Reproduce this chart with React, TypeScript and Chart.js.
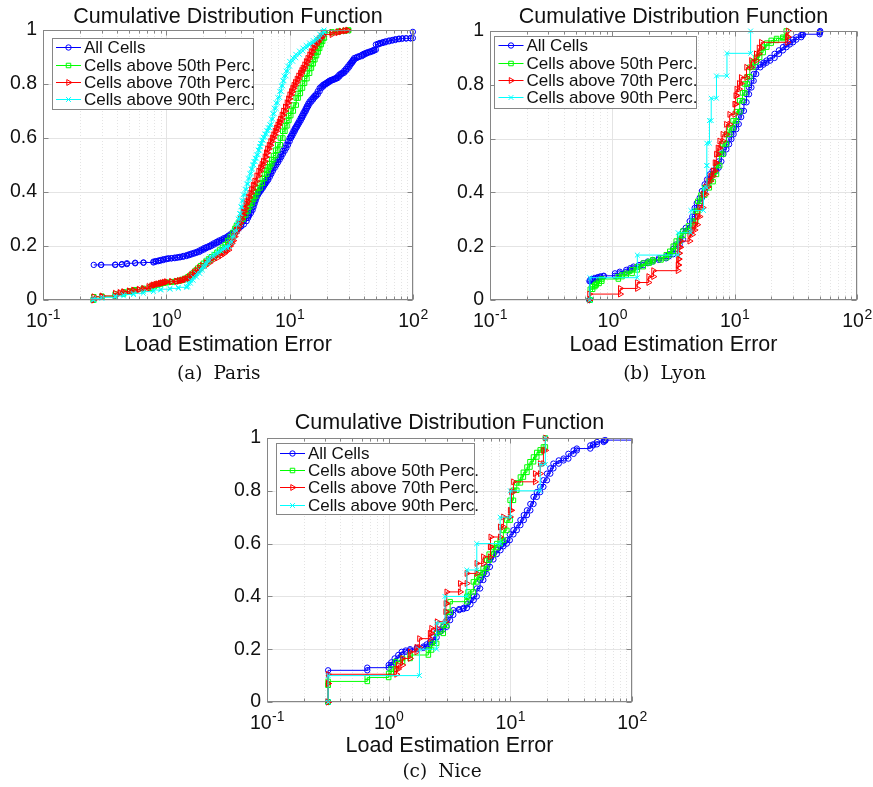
import React, { useEffect, useRef } from 'react';
import { Chart, registerables } from 'chart.js';

Chart.register(...registerables);

// ---------------- data ----------------
const SERIES_LABELS = ['All Cells', 'Cells above 50th Perc.', 'Cells above 70th Perc.', 'Cells above 90th Perc.'];
const X_DECADES = [-1, 0, 1, 2];
const Y_TICKS = [0, 0.2, 0.4, 0.6, 0.8, 1];

// Paris: [error, cdf] pairs
const parisAll: number[][] = [
  [0.258, 0.13], [0.296, 0.13], [0.385, 0.131], [0.436, 0.133], [0.479, 0.136], [0.559, 0.138], [0.653, 0.139], [0.786, 0.142],
  [0.82, 0.144], [0.862, 0.146], [0.9, 0.148], [0.946, 0.151], [1.0, 0.153], [1.04, 0.154], [1.1, 0.155], [1.17, 0.157],
  [1.23, 0.158], [1.29, 0.16], [1.37, 0.163], [1.46, 0.166], [1.53, 0.169], [1.6, 0.172], [1.68, 0.175], [1.76, 0.178],
  [1.85, 0.183], [1.93, 0.187], [2.02, 0.192], [2.11, 0.196], [2.22, 0.2], [2.32, 0.205], [2.43, 0.21], [2.55, 0.215],
  [2.67, 0.22], [2.8, 0.224], [2.93, 0.229], [3.07, 0.233], [3.18, 0.238], [3.3, 0.243], [3.44, 0.249], [3.58, 0.255],
  [3.7, 0.261], [3.8, 0.267], [3.92, 0.273], [4.05, 0.28], [4.25, 0.292], [4.47, 0.304], [4.6, 0.313], [4.7, 0.322],
  [4.85, 0.333], [5.0, 0.345], [5.1, 0.357], [5.2, 0.368], [5.3, 0.379], [5.4, 0.39], [5.55, 0.397], [5.65, 0.403],
  [5.8, 0.409], [5.9, 0.415], [6.05, 0.423], [6.2, 0.43], [6.35, 0.437], [6.5, 0.445], [6.7, 0.456], [6.9, 0.467],
  [7.1, 0.478], [7.3, 0.489], [7.55, 0.5], [7.8, 0.51], [8.05, 0.52], [8.3, 0.53], [8.55, 0.541], [8.8, 0.552],
  [9.1, 0.563], [9.4, 0.575], [9.7, 0.588], [10.0, 0.6], [10.25, 0.608], [10.5, 0.617], [10.75, 0.626], [11.0, 0.635],
  [11.25, 0.642], [11.5, 0.65], [11.75, 0.657], [12.0, 0.665], [12.3, 0.674], [12.6, 0.683], [12.9, 0.692], [13.2, 0.7],
  [13.5, 0.709], [13.8, 0.718], [14.15, 0.727], [14.5, 0.735], [15.0, 0.743], [15.5, 0.75], [15.9, 0.756], [16.4, 0.762],
  [16.9, 0.773], [17.5, 0.785], [18.1, 0.791], [18.7, 0.797], [19.2, 0.8], [19.8, 0.804], [20.4, 0.808], [21.0, 0.812],
  [21.7, 0.815], [22.4, 0.817], [23.1, 0.82], [23.8, 0.822], [24.5, 0.828], [25.3, 0.835], [26.1, 0.839], [26.9, 0.842],
  [27.7, 0.849], [28.6, 0.856], [29.5, 0.864], [30.5, 0.872], [31.2, 0.878], [32.0, 0.884], [32.7, 0.89], [33.4, 0.896],
  [35, 0.9], [36.5, 0.903], [38.5, 0.908], [40, 0.912], [41.5, 0.915], [43, 0.918], [45, 0.921], [47, 0.924],
  [48.5, 0.927], [50, 0.946], [52, 0.949], [54, 0.952], [57, 0.955], [60, 0.958], [64, 0.961], [68, 0.963],
  [72, 0.966], [77, 0.968], [82, 0.969], [88, 0.969], [95.5, 0.97], [99.7, 0.993],
];
const paris50: number[][] = [
  [0.255, 0], [0.258, 0.012], [0.3, 0.014], [0.385, 0.022], [0.45, 0.03], [0.5, 0.034], [0.56, 0.038], [0.65, 0.043],
  [0.75, 0.05], [0.8, 0.055], [0.85, 0.059], [0.9, 0.062], [0.95, 0.064], [1.0, 0.066], [1.1, 0.068], [1.2, 0.07],
  [1.28, 0.073], [1.35, 0.076], [1.42, 0.08], [1.5, 0.086], [1.58, 0.093], [1.65, 0.1], [1.72, 0.109], [1.8, 0.118],
  [1.9, 0.127], [2.0, 0.136], [2.1, 0.144], [2.2, 0.152], [2.32, 0.16], [2.45, 0.168], [2.57, 0.176], [2.7, 0.185],
  [2.85, 0.195], [3.0, 0.205], [3.15, 0.22], [3.3, 0.235], [3.45, 0.25], [3.6, 0.265], [3.7, 0.275], [3.85, 0.288],
  [4.0, 0.3], [4.2, 0.315], [4.4, 0.33], [4.6, 0.345], [4.76, 0.358], [4.95, 0.373], [5.1, 0.385], [5.3, 0.4],
  [5.5, 0.415], [5.75, 0.432], [6.0, 0.45], [6.25, 0.466], [6.5, 0.48], [6.7, 0.493], [6.9, 0.505], [7.15, 0.52],
  [7.4, 0.535], [7.7, 0.555], [8.0, 0.575], [8.4, 0.6], [8.8, 0.625], [9.15, 0.645], [9.5, 0.665], [9.85, 0.683],
  [10.2, 0.7], [10.7, 0.722], [11.3, 0.748], [11.7, 0.765], [12.2, 0.785], [12.7, 0.803], [13.2, 0.82], [13.8, 0.84],
  [14.5, 0.859], [15.0, 0.875], [15.5, 0.89], [16.0, 0.905], [16.5, 0.918], [17.0, 0.932], [17.5, 0.946], [18.0, 0.958],
  [18.5, 0.97], [19.1, 0.99], [22, 0.993], [25, 0.996], [28, 0.998], [30, 1.0],
];
const paris70: number[][] = [
  [0.255, 0], [0.258, 0.012], [0.3, 0.015], [0.385, 0.025], [0.42, 0.028], [0.45, 0.031], [0.5, 0.034], [0.542, 0.037],
  [0.6, 0.04], [0.653, 0.043], [0.72, 0.05], [0.76, 0.053], [0.785, 0.056], [0.82, 0.058], [0.85, 0.06], [0.89, 0.062],
  [0.92, 0.064], [0.96, 0.066], [1.0, 0.068], [1.1, 0.068], [1.21, 0.07], [1.27, 0.072], [1.33, 0.074], [1.4, 0.077],
  [1.46, 0.08], [1.53, 0.087], [1.6, 0.095], [1.68, 0.103], [1.76, 0.111], [1.85, 0.12], [1.95, 0.128], [2.1, 0.138],
  [2.25, 0.148], [2.4, 0.156], [2.6, 0.165], [2.8, 0.172], [2.95, 0.18], [3.07, 0.185], [3.2, 0.2], [3.3, 0.21],
  [3.4, 0.22], [3.5, 0.235], [3.6, 0.248], [3.69, 0.26], [3.8, 0.272], [3.9, 0.285], [4.0, 0.3], [4.1, 0.315],
  [4.2, 0.328], [4.3, 0.34], [4.4, 0.355], [4.47, 0.365], [4.6, 0.38], [4.75, 0.395], [4.9, 0.41], [5.05, 0.425],
  [5.2, 0.44], [5.4, 0.46], [5.6, 0.477], [5.8, 0.49], [5.95, 0.502], [6.1, 0.514], [6.3, 0.53], [6.45, 0.545],
  [6.6, 0.56], [6.8, 0.573], [7.0, 0.587], [7.2, 0.6], [7.4, 0.612], [7.6, 0.625], [7.8, 0.637], [8.0, 0.648],
  [8.2, 0.659], [8.4, 0.67], [8.65, 0.685], [8.9, 0.7], [9.2, 0.715], [9.5, 0.73], [9.75, 0.745], [10.0, 0.76],
  [10.3, 0.772], [10.55, 0.784], [10.8, 0.795], [11.1, 0.806], [11.45, 0.818], [11.8, 0.83], [12.2, 0.84], [12.5, 0.85],
  [12.8, 0.859], [13.2, 0.871], [13.6, 0.883], [14.0, 0.895], [14.5, 0.908], [14.9, 0.92], [15.4, 0.933], [15.9, 0.945],
  [16.5, 0.955], [17.0, 0.963], [17.5, 0.97], [18.0, 0.977], [18.6, 0.983], [22, 0.99], [24.5, 0.993], [26, 0.996],
  [28, 0.998], [29.5, 1.0],
];
const paris90: number[][] = [
  [0.255, 0], [0.258, 0.006], [0.3, 0.01], [0.385, 0.015], [0.45, 0.02], [0.542, 0.025], [0.65, 0.031], [0.785, 0.037],
  [0.9, 0.04], [1.07, 0.043], [1.25, 0.047], [1.46, 0.05], [1.5, 0.062], [1.57, 0.073], [1.65, 0.085], [1.76, 0.098],
  [1.87, 0.111], [1.96, 0.123], [2.05, 0.135], [2.15, 0.148], [2.25, 0.16], [2.42, 0.17], [2.6, 0.18], [2.8, 0.189],
  [2.95, 0.194], [3.07, 0.198], [3.25, 0.215], [3.4, 0.235], [3.55, 0.255], [3.72, 0.28], [3.82, 0.3], [3.93, 0.32],
  [4.02, 0.345], [4.1, 0.368], [4.2, 0.39], [4.35, 0.41], [4.48, 0.43], [4.6, 0.45], [4.75, 0.468], [4.88, 0.485],
  [5.0, 0.5], [5.13, 0.513], [5.25, 0.525], [5.39, 0.538], [5.55, 0.555], [5.68, 0.568], [5.8, 0.58], [5.95, 0.592],
  [6.1, 0.603], [6.3, 0.615], [6.5, 0.627], [6.7, 0.638], [6.9, 0.649], [7.1, 0.67], [7.3, 0.69], [7.5, 0.71],
  [7.75, 0.73], [8.0, 0.75], [8.3, 0.773], [8.55, 0.793], [8.8, 0.812], [9.0, 0.83], [9.35, 0.848], [9.65, 0.866],
  [10.0, 0.884], [10.6, 0.897], [11.2, 0.91], [12.0, 0.922], [12.8, 0.933], [13.6, 0.943], [14.5, 0.952], [15.5, 0.961],
  [16.4, 0.97], [17.5, 0.985], [18.6, 0.995], [19.0, 1.0],
];

// Lyon
const lyonAllX = [0.65, 0.65, 0.66, 0.68, 0.72, 0.76, 0.8, 0.85, 1.05, 1.15, 1.3, 1.4, 1.49, 1.65, 1.79, 1.95, 2.14, 2.4, 2.75, 2.9, 3.14, 3.3, 3.55, 3.78, 3.98, 4.29, 4.5, 4.71, 4.9, 5.18, 5.4, 5.69, 5.95, 6.25, 6.6, 7.08, 7.4, 7.78, 8.1, 8.55, 9.0, 9.4, 9.8, 10.3, 10.8, 11.3, 11.9, 12.5, 13.1, 13.7, 14.3, 15.0, 16.2, 17.2, 18.2, 19.5, 21.2, 23.0, 24.8, 26.5, 28.2, 30, 31.9, 35, 36, 49.5, 50];
const lyonAllY = [0, 0.07, 0.075, 0.078, 0.082, 0.085, 0.088, 0.09, 0.099, 0.105, 0.112, 0.118, 0.124, 0.13, 0.137, 0.143, 0.149, 0.155, 0.162, 0.17, 0.19, 0.206, 0.225, 0.256, 0.268, 0.293, 0.31, 0.342, 0.36, 0.38, 0.405, 0.43, 0.448, 0.467, 0.48, 0.492, 0.515, 0.542, 0.56, 0.579, 0.598, 0.616, 0.635, 0.654, 0.68, 0.703, 0.735, 0.765, 0.79, 0.815, 0.84, 0.865, 0.875, 0.882, 0.89, 0.9, 0.915, 0.928, 0.94, 0.95, 0.958, 0.968, 0.977, 0.985, 0.988, 0.995, 1.0];
const lyon50X = [0.65, 0.66, 0.69, 0.72, 0.74, 0.78, 0.82, 1.12, 1.2, 1.3, 1.45, 1.6, 1.79, 2.0, 2.14, 2.5, 2.76, 2.95, 3.15, 3.33, 3.55, 3.78, 4.2, 4.57, 4.8, 5.0, 5.3, 5.69, 6.2, 6.66, 7.1, 7.54, 8.0, 8.55, 9.1, 9.7, 10.3, 11.0, 11.6, 12.1, 12.7, 13.3, 14.1, 15.0, 16.0, 17.1, 18.3, 19.9, 22, 24.8, 26.4];
const lyon50Y = [0, 0.04, 0.05, 0.056, 0.062, 0.07, 0.078, 0.087, 0.093, 0.099, 0.112, 0.124, 0.137, 0.143, 0.149, 0.157, 0.168, 0.181, 0.2, 0.219, 0.24, 0.256, 0.275, 0.293, 0.33, 0.367, 0.39, 0.417, 0.44, 0.467, 0.5, 0.542, 0.58, 0.616, 0.64, 0.666, 0.7, 0.741, 0.77, 0.803, 0.83, 0.865, 0.885, 0.902, 0.92, 0.94, 0.955, 0.965, 0.972, 0.977, 1.0];
const lyon70X = [0.65, 0.65, 1.16, 1.6, 1.98, 2.17, 3.44, 3.47, 3.5, 3.52, 3.6, 4.29, 4.5, 4.71, 4.95, 5.18, 5.5, 5.8, 6.05, 6.35, 6.66, 6.9, 7.08, 7.3, 7.54, 8.0, 8.55, 9.1, 10.0, 10.2, 10.4, 10.9, 11.3, 12.5, 13.7, 15.0, 15.8, 16.5, 27.0, 27.3];
const lyon70Y = [0, 0.022, 0.043, 0.065, 0.087, 0.109, 0.13, 0.152, 0.174, 0.196, 0.219, 0.243, 0.26, 0.28, 0.31, 0.343, 0.393, 0.42, 0.442, 0.46, 0.48, 0.51, 0.542, 0.565, 0.591, 0.616, 0.653, 0.69, 0.728, 0.76, 0.784, 0.805, 0.827, 0.865, 0.89, 0.915, 0.937, 0.958, 0.978, 1.0];
const lyon90X = [0.655, 0.655, 1.6, 3.45, 4.38, 5.56, 5.92, 5.92, 6.22, 6.43, 7.1, 8.65, 13.5];
const lyon90Y = [0, 0.083, 0.167, 0.25, 0.333, 0.417, 0.5, 0.583, 0.667, 0.75, 0.833, 0.917, 1.0];

// Nice
const niceAllX = [0.318, 0.318, 0.667, 1.0, 1.05, 1.12, 1.2, 1.28, 1.38, 1.5, 1.7, 1.93, 2.05, 2.19, 2.33, 2.48, 2.65, 2.81, 3.0, 3.2, 3.4, 3.8, 4.11, 4.39, 4.7, 5.0, 5.3, 5.64, 6.0, 6.4, 6.8, 7.26, 7.74, 8.3, 8.77, 9.36, 9.9, 10.6, 11.3, 12.1, 12.9, 13.7, 14.6, 15.5, 16.5, 17.6, 18.7, 20, 21.3, 22.6, 25, 27.4, 30, 33.1, 35.2, 45.4, 48, 51.5, 58.5, 60.4, 200];
const niceAllY = [0, 0.12, 0.13, 0.14, 0.15, 0.165, 0.178, 0.19, 0.195, 0.2, 0.205, 0.21, 0.218, 0.228, 0.245, 0.266, 0.275, 0.285, 0.31, 0.33, 0.348, 0.352, 0.356, 0.37, 0.386, 0.4, 0.43, 0.462, 0.485, 0.512, 0.54, 0.56, 0.575, 0.59, 0.6, 0.613, 0.635, 0.651, 0.67, 0.689, 0.708, 0.726, 0.75, 0.777, 0.795, 0.815, 0.84, 0.865, 0.885, 0.903, 0.915, 0.922, 0.94, 0.953, 0.96, 0.972, 0.976, 0.985, 0.99, 0.992, 1.0];
const nice50X = [0.318, 0.318, 0.318, 0.667, 1.0, 1.05, 1.14, 1.3, 1.5, 2.12, 2.25, 2.48, 2.81, 3.0, 3.2, 4.39, 4.5, 4.97, 5.3, 5.64, 5.98, 6.4, 6.7, 7.26, 7.74, 8.25, 8.77, 9.36, 9.96, 10.6, 11.3, 12.1, 12.8, 13.7, 14.5, 15.5, 16.5, 17.6, 18.7, 19.4];
const nice50Y = [0, 0.064, 0.078, 0.093, 0.108, 0.125, 0.153, 0.165, 0.178, 0.197, 0.222, 0.26, 0.29, 0.34, 0.38, 0.4, 0.417, 0.455, 0.474, 0.49, 0.506, 0.537, 0.56, 0.585, 0.6, 0.613, 0.65, 0.689, 0.764, 0.802, 0.83, 0.852, 0.87, 0.89, 0.91, 0.928, 0.945, 0.955, 0.966, 1.0];
const nice70X = [0.318, 0.318, 0.318, 1.16, 1.2, 1.3, 1.5, 1.7, 1.79, 2.19, 2.25, 2.5, 2.95, 2.95, 3.0, 3.87, 4.39, 5.3, 6.0, 6.82, 6.9, 8.25, 8.77, 9.96, 10.2, 10.6, 16.0, 17.6, 18.7, 19.4];
const nice70Y = [0, 0.07, 0.105, 0.125, 0.14, 0.165, 0.19, 0.207, 0.24, 0.26, 0.279, 0.304, 0.342, 0.373, 0.417, 0.449, 0.487, 0.525, 0.55, 0.588, 0.625, 0.663, 0.701, 0.726, 0.796, 0.834, 0.865, 0.903, 0.953, 1.0];
const nice90X = [0.318, 0.318, 1.79, 2.48, 2.9, 4.39, 5.3, 8.25, 10.0, 17.6, 19.4];
const nice90Y = [0, 0.1, 0.2, 0.3, 0.4, 0.5, 0.6, 0.7, 0.8, 0.9, 1.0];

// ---------------- styles ----------------
const SANS = '"Liberation Sans", Arial, Helvetica, sans-serif';
const SERIF = '"DejaVu Serif", serif';
const AXIS_COLOR = '#868686';
const GRID_COLOR = '#e4e4e4';
const TEXT_COLOR = '#111111';

const STYLES = [
  { color: '#0000ff', shape: 'circle', radius: 2.7, rotation: 0 },
  { color: '#00ff00', shape: 'rect', radius: 3.2, rotation: 0 },
  { color: '#ff0000', shape: 'triangle', radius: 3.4, rotation: 90 },
  { color: '#00ffff', shape: 'crossRot', radius: 3.4, rotation: 0 },
];

type Panel = {
  canvas: { left: number; top: number; width: number; height: number };
  plot: { left: number; top: number; right: number; bottom: number };
  legend: { left: number; top: number; width: number; height: number };
  titleY: number;
  tickY: number;
  labelY: number;
  caption: [string, string];
  captionX: number;
  captionY: number;
  series: number[][][];
  clipRight: number[];
};

const xsOf = (pairs: number[][]) => pairs.map((p) => p[0]);
const ysOf = (pairs: number[][]) => pairs.map((p) => p[1]);

const PANELS: Panel[] = [
  {
    canvas: { left: 0, top: 0, width: 436, height: 392 },
    plot: { left: 43, top: 30, right: 413, bottom: 300 },
    legend: { left: 51.5, top: 38, width: 200.5, height: 71 },
    titleY: 22.7, tickY: 327, labelY: 351,
    caption: ['(a)', 'Paris'], captionX: 218.7, captionY: 379,
    series: [
      [xsOf(parisAll), ysOf(parisAll)],
      [xsOf(paris50), ysOf(paris50)],
      [xsOf(paris70), ysOf(paris70)],
      [xsOf(paris90), ysOf(paris90)],
    ],
    clipRight: [6, 6, 6, 6],
  },
  {
    canvas: { left: 436, top: 0, width: 437, height: 392 },
    plot: { left: 490, top: 31, right: 857, bottom: 300 },
    legend: { left: 494, top: 36, width: 202, height: 72 },
    titleY: 23, tickY: 327, labelY: 351,
    caption: ['(b)', 'Lyon'], captionX: 664.5, captionY: 379,
    series: [[lyonAllX, lyonAllY], [lyon50X, lyon50Y], [lyon70X, lyon70Y], [lyon90X, lyon90Y]],
    clipRight: [6, 6, 6, 6],
  },
  {
    canvas: { left: 210, top: 395, width: 450, height: 392 },
    plot: { left: 267, top: 438, right: 632, bottom: 702 },
    legend: { left: 275.5, top: 443.3, width: 198, height: 70.7 },
    titleY: 429.3, tickY: 729, labelY: 752,
    caption: ['(c)', 'Nice'], captionX: 442, captionY: 777,
    series: [[niceAllX, niceAllY], [nice50X, nice50Y], [nice70X, nice70Y], [nice90X, nice90Y]],
    clipRight: [0, 6, 6, 6],
  },
];

const Y_AXIS_W = 40;
const X_AXIS_H = 4;

function stairs(xs: number[], ys: number[]) {
  const pts: { x: number; y: number }[] = [];
  for (let i = 0; i < xs.length; i++) {
    if (i > 0) pts.push({ x: xs[i], y: ys[i - 1] });
    pts.push({ x: xs[i], y: ys[i] });
  }
  return pts;
}

function drawMarker(ctx: CanvasRenderingContext2D, shape: string, x: number, y: number, r: number) {
  ctx.beginPath();
  if (shape === 'circle') {
    ctx.arc(x, y, r, 0, Math.PI * 2);
  } else if (shape === 'rect') {
    const s = r * Math.SQRT1_2;
    ctx.rect(x - s, y - s, 2 * s, 2 * s);
  } else if (shape === 'triangle') {
    ctx.moveTo(x + r, y);
    ctx.lineTo(x - r / 2, y - r * 0.866);
    ctx.lineTo(x - r / 2, y + r * 0.866);
    ctx.closePath();
  } else {
    const o = r * Math.SQRT1_2;
    ctx.moveTo(x - o, y - o);
    ctx.lineTo(x + o, y + o);
    ctx.moveTo(x + o, y - o);
    ctx.lineTo(x - o, y + o);
  }
  ctx.stroke();
}

function makeDecor(p: Panel) {
  const ox = p.canvas.left;
  const oy = p.canvas.top;
  return {
    id: 'decor',
    beforeDatasetsDraw(chart: any) {
      const ctx: CanvasRenderingContext2D = chart.ctx;
      const { left, right, top, bottom } = chart.chartArea;
      const xs = chart.scales.x;
      const ys = chart.scales.y;
      ctx.save();
      ctx.lineWidth = 1;
      ctx.strokeStyle = GRID_COLOR;
      ctx.setLineDash([1, 2]);
      for (const d of X_DECADES.slice(0, 3)) {
        for (let m = 2; m <= 9; m++) {
          const px = Math.round(xs.getPixelForValue(m * Math.pow(10, d))) + 0.5;
          ctx.beginPath();
          ctx.moveTo(px, top);
          ctx.lineTo(px, bottom);
          ctx.stroke();
        }
      }
      ctx.setLineDash([]);
      for (const d of X_DECADES) {
        const px = Math.round(xs.getPixelForValue(Math.pow(10, d))) + 0.5;
        ctx.beginPath();
        ctx.moveTo(px, top);
        ctx.lineTo(px, bottom);
        ctx.stroke();
      }
      for (const v of Y_TICKS) {
        const py = Math.round(ys.getPixelForValue(v)) + 0.5;
        ctx.beginPath();
        ctx.moveTo(left, py);
        ctx.lineTo(right, py);
        ctx.stroke();
      }
      ctx.restore();
    },
    afterDraw(chart: any) {
      const ctx: CanvasRenderingContext2D = chart.ctx;
      const { left, right, top, bottom } = chart.chartArea;
      const xs = chart.scales.x;
      const ys = chart.scales.y;
      ctx.save();
      ctx.strokeStyle = AXIS_COLOR;
      ctx.lineWidth = 1;
      const L = Math.round(left) + 0.5, R = Math.round(right) - 0.5;
      const T = Math.round(top) + 0.5, B = Math.round(bottom) - 0.5;
      ctx.strokeRect(L, T, R - L, B - T);
      ctx.beginPath();
      for (const d of X_DECADES) {
        for (let m = 1; m <= 9; m++) {
          if (d === 2 && m > 1) break;
          const px = Math.round(xs.getPixelForValue(m * Math.pow(10, d))) + 0.5;
          const len = m === 1 ? 5 : 3;
          ctx.moveTo(px, B); ctx.lineTo(px, B - len);
          ctx.moveTo(px, T); ctx.lineTo(px, T + len);
        }
      }
      for (const v of Y_TICKS) {
        const py = Math.round(ys.getPixelForValue(v)) + 0.5;
        ctx.moveTo(L, py); ctx.lineTo(L + 5, py);
        ctx.moveTo(R, py); ctx.lineTo(R - 5, py);
      }
      ctx.stroke();

      // legend
      const lg = p.legend;
      const lx = lg.left - ox, ly = lg.top - oy;
      ctx.fillStyle = '#ffffff';
      ctx.fillRect(lx, ly, lg.width, lg.height);
      ctx.strokeStyle = AXIS_COLOR;
      ctx.strokeRect(Math.round(lx) + 0.5, Math.round(ly) + 0.5, Math.round(lg.width), Math.round(lg.height));
      ctx.font = `17px ${SANS}`;
      ctx.textAlign = 'left';
      ctx.textBaseline = 'alphabetic';
      SERIES_LABELS.forEach((label, i) => {
        const st = STYLES[i];
        const cy = Math.round(ly + 9.3 + i * 17.3) + 0.5;
        ctx.strokeStyle = st.color;
        ctx.lineWidth = 1;
        ctx.beginPath();
        ctx.moveTo(lx + 4.5, cy);
        ctx.lineTo(lx + 29.5, cy);
        ctx.stroke();
        drawMarker(ctx, st.shape, lx + 17, cy, st.radius);
        ctx.fillStyle = TEXT_COLOR;
        ctx.fillText(label, lx + 32.5, cy + 5.8);
      });

      // title
      const cx = (left + right) / 2;
      ctx.fillStyle = TEXT_COLOR;
      ctx.textAlign = 'center';
      ctx.font = `21.5px ${SANS}`;
      ctx.fillText('Cumulative Distribution Function', cx, p.titleY - oy);

      // x tick labels: 10^d
      for (const d of X_DECADES) {
        const px = xs.getPixelForValue(Math.pow(10, d));
        const base = '10';
        const exp = d < 0 ? '-' + Math.abs(d) : String(d);
        ctx.font = `19.5px ${SANS}`;
        const wb = ctx.measureText(base).width;
        ctx.font = `14px ${SANS}`;
        const we = ctx.measureText(exp).width;
        const x0 = px - (wb + we) / 2;
        ctx.textAlign = 'left';
        ctx.font = `19.5px ${SANS}`;
        ctx.fillText(base, x0, p.tickY - oy);
        ctx.font = `14px ${SANS}`;
        ctx.fillText(exp, x0 + wb + 0.5, p.tickY - 8 - oy);
      }

      // x label
      ctx.textAlign = 'center';
      ctx.font = `21.5px ${SANS}`;
      ctx.fillText('Load Estimation Error', cx, p.labelY - oy);

      // caption
      ctx.font = `18.5px ${SERIF}`;
      ctx.textAlign = 'left';
      const gap = 11;
      const w1 = ctx.measureText(p.caption[0]).width;
      const w2 = ctx.measureText(p.caption[1]).width;
      const start = p.captionX - ox - (w1 + gap + w2) / 2;
      ctx.fillText(p.caption[0], start, p.captionY - oy);
      ctx.fillText(p.caption[1], start + w1 + gap, p.captionY - oy);
      ctx.restore();
    },
  };
}

function PanelChart({ p }: { p: Panel }) {
  const ref = useRef<HTMLCanvasElement | null>(null);
  useEffect(() => {
    if (!ref.current) return;
    const datasets = p.series.map(([xs, ys], i) => {
      const st = STYLES[i];
      return {
        label: SERIES_LABELS[i],
        data: stairs(xs, ys),
        borderColor: st.color,
        backgroundColor: st.color,
        borderWidth: 1,
        pointStyle: st.shape,
        pointRadius: st.radius,
        pointRotation: st.rotation,
        pointBorderColor: st.color,
        pointBackgroundColor: 'rgba(0,0,0,0)',
        pointBorderWidth: 1,
        tension: 0,
        order: 3 - i,
        clip: { left: 6, top: 6, right: p.clipRight[i], bottom: 6 },
      };
    });
    const padLeft = p.plot.left - p.canvas.left - Y_AXIS_W;
    const padTop = p.plot.top - p.canvas.top;
    const padRight = p.canvas.left + p.canvas.width - p.plot.right;
    const padBottom = p.canvas.top + p.canvas.height - p.plot.bottom - X_AXIS_H;
    const chart = new Chart(ref.current, {
      type: 'line',
      data: { datasets } as any,
      options: {
        responsive: false,
        animation: false,
        devicePixelRatio: 1,
        events: [],
        layout: { padding: { left: padLeft, top: padTop, right: padRight, bottom: padBottom } },
        plugins: { legend: { display: false }, title: { display: false }, tooltip: { enabled: false } },
        scales: {
          x: {
            type: 'logarithmic',
            min: 0.1,
            max: 100,
            grid: { display: false, drawTicks: false },
            border: { display: false },
            ticks: { display: false },
            afterFit: (s: any) => { s.height = X_AXIS_H; },
          },
          y: {
            type: 'linear',
            min: 0,
            max: 1,
            grid: { display: false, drawTicks: false },
            border: { display: false },
            ticks: {
              stepSize: 0.2,
              padding: 6,
              color: TEXT_COLOR,
              font: { family: SANS, size: 19.5 },
              callback: (v: any) => String(Math.round(Number(v) * 10) / 10),
            },
            afterFit: (s: any) => { s.width = Y_AXIS_W; },
          },
        },
      } as any,
      plugins: [makeDecor(p)],
    });
    return () => chart.destroy();
  }, [p]);
  return (
    <canvas
      ref={ref}
      width={p.canvas.width}
      height={p.canvas.height}
      style={{ position: 'absolute', left: p.canvas.left, top: p.canvas.top, width: p.canvas.width, height: p.canvas.height }}
    />
  );
}

export default function App() {
  return (
    <div style={{ position: 'absolute', left: 0, top: 0, width: 873, height: 787, background: '#ffffff', overflow: 'hidden' }}>
      {PANELS.map((p, i) => (
        <PanelChart key={i} p={p} />
      ))}
    </div>
  );
}
